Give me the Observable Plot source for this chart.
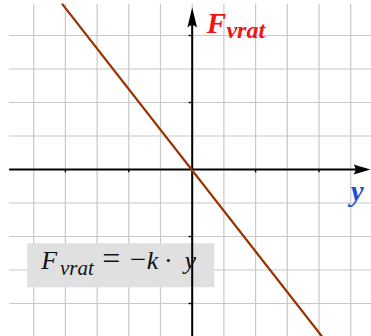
<!DOCTYPE html>
<html>
<head>
<meta charset="utf-8">
<script src="https://cdn.jsdelivr.net/npm/d3@7"></script>
<script src="https://cdn.jsdelivr.net/npm/@observablehq/plot@0.6"></script>
<style>
  html, body { margin: 0; padding: 0; background: #fff; }
  #chart svg { display: block; }
</style>
</head>
<body>
<div id="chart"></div>
<script>
// ---- data ----
const gridX = [-5, -4, -3, -2, -1, 0, 1, 2, 3, 4, 5];
const gridY = [-4, -3, -2, -1, 1, 2, 3, 4];
const ticksX = [-4, -2, 2, 4];
const ticksY = [-4, -2, 2, 4];
const lineY = [-4.09, 4.10];       // displacement y
const lineF = [4.93, -4.99];       // restoring force F = -k·y

const xDomain = [-6.047, 5.656];
const yDomain = [-4.985, 5.045];
const gridLeft = -5.76, gridRight = 5.66, gridTop = 4.93, gridBottom = -5.0;

// arrowhead symbols
const arrowUp = {
  draw(ctx) {
    ctx.moveTo(0, 0);
    ctx.lineTo(4.8, 20);
    ctx.quadraticCurveTo(0, 15, -4.8, 20);
    ctx.closePath();
  }
};
const arrowRight = {
  draw(ctx) {
    ctx.moveTo(0, 0);
    ctx.lineTo(-17, 5);
    ctx.quadraticCurveTo(-13, 0, -17, -5);
    ctx.closePath();
  }
};

const serif = "'Liberation Serif', 'DejaVu Serif', serif";
const T = (txt, o) => Plot.text([txt], {text: d => d, lineAnchor: "bottom", fontFamily: serif, ...o});

const chart = Plot.plot({
  width: 371,
  height: 336,
  margin: 0,
  x: {domain: xDomain, axis: null},
  y: {domain: yDomain, axis: null},
  style: {background: "#fff", fontFamily: serif, overflow: "visible"},
  marks: [
    // grid
    Plot.ruleX(gridX, {x: d => d, y1: gridBottom, y2: gridTop, stroke: "#c8c8c8", strokeWidth: 1.2}),
    Plot.ruleY(gridY, {y: d => d, x1: gridLeft, x2: gridRight, stroke: "#c8c8c8", strokeWidth: 1.2}),
    // formula box
    Plot.rect([0], {x1: -5.19, x2: 0.713, y1: -2.218, y2: -3.53, fill: "#e0e0e0"}),
    // axes
    Plot.ruleY([0], {x1: gridLeft, x2: 5.3, stroke: "#000", strokeWidth: 2}),
    Plot.ruleX([0], {y1: gridBottom, y2: 4.6, stroke: "#000", strokeWidth: 2}),
    Plot.ruleX(ticksX, {x: d => d, y1: 0, y2: -0.1, stroke: "#000", strokeWidth: 1.4}),
    Plot.ruleY(ticksY, {y: d => d, x1: -0.1, x2: 0, stroke: "#000", strokeWidth: 1.4}),
    Plot.dot([0], {x: 0, y: 4.836, symbol: arrowUp, fill: "#000", stroke: "none", r: 5}),
    Plot.dot([0], {x: 5.625, y: 0, symbol: arrowRight, fill: "#000", stroke: "none", r: 5}),
    // F = -k y line
    Plot.line(lineY.map((v, i) => ({y: v, f: lineF[i]})), {x: "y", y: "f", stroke: "#993300", strokeWidth: 2.3}),
    // axis labels
    T("F", {x: 0.46, y: 4.07, textAnchor: "start", fill: "#f01414", fontSize: 29, fontWeight: "bold", fontStyle: "italic"}),
    T("vrat", {x: 1.08, y: 3.93, textAnchor: "start", fill: "#f01414", fontSize: 24, fontWeight: "bold", fontStyle: "italic"}),
    T("y", {x: 5.0, y: -0.93, textAnchor: "start", fill: "#1f4fd4", fontSize: 29, fontWeight: "bold", fontStyle: "italic"}),
    // formula
    T("F", {x: -4.76, y: -2.964, textAnchor: "start", fill: "#111", fontSize: 26, fontStyle: "italic"}),
    T("vrat", {x: -4.17, y: -3.16, textAnchor: "start", fill: "#111", fontSize: 21, fontStyle: "italic"}),
    T("=", {x: -2.55, y: -2.964, textAnchor: "middle", fill: "#111", fontSize: 32}),
    T("−", {x: -1.71, y: -2.964, textAnchor: "middle", fill: "#111", fontSize: 29}),
    T("k", {x: -1.43, y: -2.964, textAnchor: "start", fill: "#111", fontSize: 26, fontStyle: "italic"}),
    T("·", {x: -0.75, y: -2.964, textAnchor: "middle", fill: "#111", fontSize: 26}),
    T("y", {x: -0.24, y: -2.964, textAnchor: "start", fill: "#111", fontSize: 26, fontStyle: "italic"})
  ]
});
document.getElementById("chart").appendChild(chart);
</script>
</body>
</html>
